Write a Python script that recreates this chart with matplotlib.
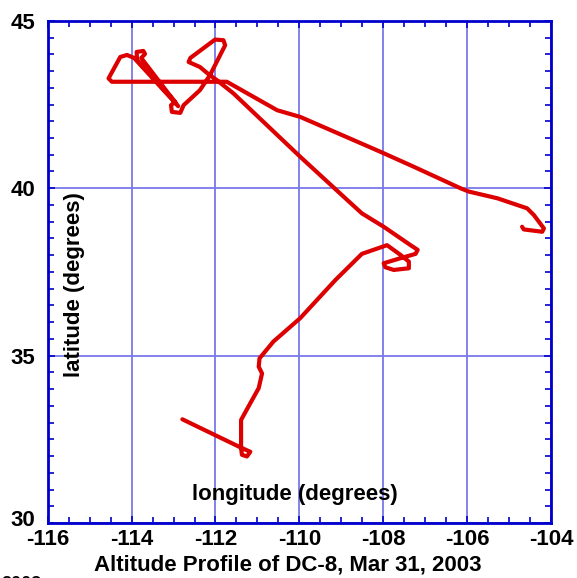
import matplotlib
matplotlib.use("Agg")
import matplotlib.pyplot as plt
import matplotlib.transforms as mtransforms
from matplotlib.ticker import MultipleLocator

plt.rcParams['font.family'] = ['Liberation Sans', 'DejaVu Sans']
plt.rcParams['font.weight'] = 'bold'

# DC-8 ground track, Mar 31 2003
lon = [-112.79, -111.37, -111.17, -111.25, -111.37, -111.39, -111.39, -111.17,
       -110.97, -110.89, -110.97, -110.95, -110.62, -109.98, -109.14, -108.51,
       -107.91, -107.59, -107.39, -107.39, -107.75, -107.95, -107.99, -107.59,
       -107.23, -107.18, -107.35, -107.99, -108.51, -108.86, -109.98, -111.57,
       -111.97, -112.17, -112.37, -112.64, -112.60, -112.01, -111.81, -111.77,
       -112.13, -112.37, -112.76, -112.84, -113.04, -113.06, -112.96, -113.87,
       -113.88, -113.72, -113.68, -113.77, -112.89, -113.94, -114.11, -114.27,
       -114.55, -114.47, -111.73, -110.53, -109.98, -108.07, -107.27, -106.16,
       -105.96, -105.28, -104.57, -104.41, -104.17, -104.21, -104.65, -104.69]
lat = [33.10, 32.24, 32.13, 31.99, 32.04, 32.25, 33.08, 33.58,
       34.03, 34.47, 34.67, 34.92, 35.42, 36.12, 37.26, 38.04,
       38.30, 38.01, 37.81, 37.61, 37.56, 37.64, 37.76, 37.91,
       38.04, 38.16, 38.30, 38.85, 39.25, 39.65, 40.94, 42.83,
       43.23, 43.41, 43.62, 43.77, 43.89, 44.44, 44.42, 44.27,
       43.38, 42.93, 42.48, 42.25, 42.28, 42.48, 42.58, 43.83,
       44.07, 44.10, 44.01, 43.89, 42.45, 43.89, 43.98, 43.92,
       43.28, 43.18, 43.18, 42.33, 42.13, 41.09, 40.64, 40.00,
       39.90, 39.70, 39.40, 39.20, 38.80, 38.70, 38.77, 38.85]

xticks = [-116, -114, -112, -110, -108, -106, -104]
yticks = [30, 35, 40, 45]

blue = '#0000cc'
gridblue = '#7878ea'

fig = plt.figure(figsize=(5.77, 5.78), dpi=100)
ax = fig.add_axes([0.0827, 0.095, 0.8723, 0.869])

ax.plot(lon, lat, color='#dd0000', lw=3.0, solid_joinstyle='round',
        solid_capstyle='round', zorder=3)

ax.set_xlim(-116, -104)
ax.set_ylim(30, 45)
ax.set_xticks(xticks)
ax.set_yticks(yticks)
ax.set_xticklabels([str(t) for t in xticks])
ax.xaxis.set_minor_locator(MultipleLocator(0.5))
ax.yaxis.set_minor_locator(MultipleLocator(0.5))

ax.grid(True, which='major', color=gridblue, lw=1.3, zorder=1)
for s in ax.spines.values():
    s.set_color(blue)
    s.set_linewidth(2)

ax.tick_params(which='both', direction='in', color=blue, top=True, right=True,
               labelsize=16)
ax.tick_params(axis='x', pad=4)
ax.tick_params(axis='y', pad=9)
ax.tick_params(which='major', length=5, width=1.2)
ax.tick_params(which='minor', length=4, width=1.2)

# lift the bottom latitude label a little off the longitude labels
lbl = ax.get_yticklabels()[0]
lbl.set_transform(lbl.get_transform() +
                  mtransforms.ScaledTranslation(0, 4 / 72, fig.dpi_scale_trans))

ax.text(0.054, 0.474, 'latitude (degrees)', transform=ax.transAxes,
        rotation=90, ha='center', va='center', fontsize=16, fontweight='bold')
ax.text(0.491, 0.056, 'longitude (degrees)', transform=ax.transAxes,
        ha='center', va='center', fontsize=16, fontweight='bold')

fig.text(0.499, 0.022, 'Altitude Profile of DC-8, Mar 31, 2003',
         ha='center', va='center', fontsize=16, fontweight='bold')
fig.text(0.002, 0.003, '2003', ha='left', va='top', fontsize=13, fontweight='bold')

fig.savefig('out.png', dpi=100)
